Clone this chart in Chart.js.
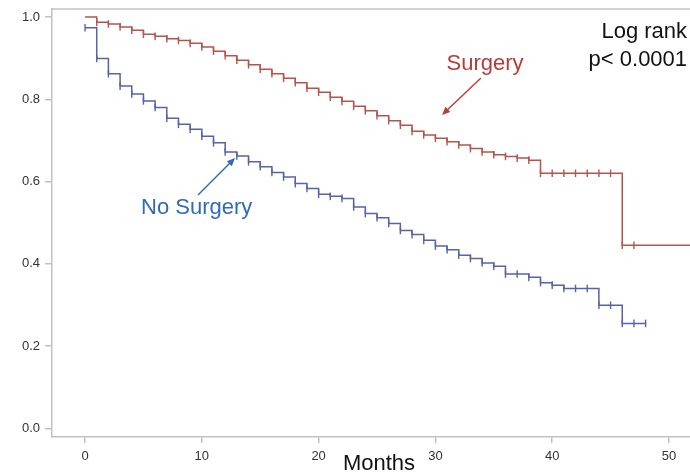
<!DOCTYPE html>
<html>
<head>
<meta charset="utf-8">
<script src="https://cdn.jsdelivr.net/npm/chart.js@4.4.1/dist/chart.umd.min.js"></script>
<style>
html,body{margin:0;padding:0;background:#fff;}
canvas{display:block;}
</style>
</head>
<body>
<canvas id="c" width="690" height="473"></canvas>
<script>
// ---- data ----
const surgeryMonths = [0,1,2,3,4,5,6,7,8,9,10,11,12,13,14,15,16,17,18,19,20,21,22,23,24,25,26,27,28,29,30,31,32,33,34,35,36,37,38,39,40,41,42,43,44,45,46,47];
const surgerySurvival = [1.000,0.987,0.983,0.976,0.968,0.958,0.953,0.947,0.943,0.936,0.927,0.917,0.906,0.895,0.884,0.873,0.862,0.851,0.840,0.827,0.817,0.805,0.795,0.783,0.772,0.760,0.748,0.737,0.722,0.713,0.705,0.697,0.689,0.680,0.672,0.665,0.661,0.657,0.652,0.620,0.620,0.620,0.620,0.620,0.620,0.620,0.445,0.445];
const surgeryFollowUpEnd = 52;
const surgeryCensored = [1,2,3,4,5,6,7,8,9,10,11,12,13,14,15,16,17,18,19,20,21,22,23,24,25,26,27,28,29,30,31,32,33,34,35,36,37,38,39,40,41,42,43,44,45,46,47];

const noSurgeryMonths = [0,1,2,3,4,5,6,7,8,9,10,11,12,13,14,15,16,17,18,19,20,21,22,23,24,25,26,27,28,29,30,31,32,33,34,35,36,37,38,39,40,41,42,43,44,45,46,47,48];
const noSurgerySurvival = [0.974,0.899,0.862,0.832,0.813,0.796,0.780,0.754,0.739,0.727,0.710,0.694,0.672,0.662,0.648,0.636,0.622,0.611,0.595,0.583,0.569,0.564,0.559,0.538,0.522,0.512,0.498,0.481,0.471,0.457,0.443,0.434,0.421,0.413,0.402,0.394,0.375,0.375,0.367,0.354,0.348,0.340,0.340,0.340,0.299,0.299,0.255,0.255,0.255];
const noSurgeryCensored = [0,1,2,3,4,5,6,7,8,9,10,11,12,13,14,15,16,17,18,19,20,21,22,23,24,25,26,27,28,29,30,31,32,33,34,35,36,37,38,39,40,41,42,43,44,45,46,47,48];

const xTicks = [0,10,20,30,40,50];
const xTickLabels = ['0','10','20','30','40','50'];
const yTicks = [0,0.2,0.4,0.6,0.8,1.0];
const yTickLabels = ['0.0','0.2','0.4','0.6','0.8','1.0'];

// ---- styles ----
const RED = '#b4544a';
const BLUE = '#5663a8';
const RED_TEXT = '#b73d36';
const BLUE_TEXT = '#2f6cb5';
const AXIS = '#c2c2c2';
const FONT = '"Liberation Sans", Arial, sans-serif';

function stepValue(months, values, m){
  let v = values[0];
  for (let i=0;i<months.length;i++){ if (months[i] <= m) v = values[i]; }
  return v;
}

const surgeryLine = surgeryMonths.map((m,i)=>({x:m,y:surgerySurvival[i]}));
surgeryLine.push({x:surgeryFollowUpEnd, y:surgerySurvival[surgerySurvival.length-1]});
const noSurgeryLine = noSurgeryMonths.map((m,i)=>({x:m,y:noSurgerySurvival[i]}));
const surgeryCens = surgeryCensored.map(m=>({x:m,y:stepValue(surgeryMonths,surgerySurvival,m)}));
const noSurgeryCens = noSurgeryCensored.map(m=>({x:m,y:stepValue(noSurgeryMonths,noSurgerySurvival,m)}));

// annotation anchors in data coordinates (months, survival)
const labels = [
  {text:'Surgery', m:34.25, v:0.871, color:RED_TEXT, align:'center'},
  {text:'No Surgery', m:4.79, v:0.521, color:BLUE_TEXT, align:'left'},
  {text:'Log rank', m:51.55, v:0.949, color:'#111', align:'right'},
  {text:'p< 0.0001', m:51.55, v:0.881, color:'#111', align:'right'}
];
const arrows = [
  {from:[33.9,0.852], to:[30.57,0.762], color:RED_TEXT},
  {from:[9.67,0.567], to:[12.84,0.657], color:BLUE_TEXT}
];

const annotPlugin = {
  id:'annot',
  afterDraw(chart){
    const {ctx, chartArea, scales} = chart;
    const xs = scales.x, ys = scales.y;
    ctx.save();
    // top frame line
    ctx.strokeStyle = AXIS; ctx.lineWidth = 1.5;
    ctx.beginPath(); ctx.moveTo(chartArea.left, chartArea.top); ctx.lineTo(chartArea.right, chartArea.top); ctx.stroke();
    // texts
    ctx.font = '22px ' + FONT;
    ctx.textBaseline = 'alphabetic';
    labels.forEach(l=>{
      ctx.fillStyle = l.color; ctx.textAlign = l.align;
      ctx.fillText(l.text, xs.getPixelForValue(l.m), ys.getPixelForValue(l.v));
    });
    // arrows
    arrows.forEach(a=>{
      const x1 = xs.getPixelForValue(a.from[0]), y1 = ys.getPixelForValue(a.from[1]);
      const x2 = xs.getPixelForValue(a.to[0]), y2 = ys.getPixelForValue(a.to[1]);
      const ang = Math.atan2(y2-y1, x2-x1);
      ctx.strokeStyle = a.color; ctx.fillStyle = a.color; ctx.lineWidth = 1.4;
      ctx.beginPath(); ctx.moveTo(x1,y1);
      ctx.lineTo(x2 - 6*Math.cos(ang), y2 - 6*Math.sin(ang)); ctx.stroke();
      ctx.beginPath();
      ctx.moveTo(x2,y2);
      ctx.lineTo(x2 - 8*Math.cos(ang) + 3.5*Math.sin(ang), y2 - 8*Math.sin(ang) - 3.5*Math.cos(ang));
      ctx.lineTo(x2 - 8*Math.cos(ang) - 3.5*Math.sin(ang), y2 - 8*Math.sin(ang) + 3.5*Math.cos(ang));
      ctx.closePath(); ctx.fill();
    });
    // x axis title
    ctx.fillStyle = '#111'; ctx.textAlign = 'center';
    ctx.font = '22px ' + FONT;
    ctx.fillText('Months', xs.getPixelForValue(25.17), chartArea.bottom + 33);
    ctx.restore();
  }
};

new Chart(document.getElementById('c'), {
  type:'line',
  data:{
    datasets:[
      {data:surgeryLine, borderColor:RED, borderWidth:1.5, stepped:true, pointRadius:0, fill:false},
      {data:noSurgeryLine, borderColor:BLUE, borderWidth:1.5, stepped:true, pointRadius:0, fill:false},
      {type:'scatter', data:surgeryCens, showLine:false, pointStyle:'line', rotation:90, pointRadius:3.8, borderColor:RED, borderWidth:1.4, backgroundColor:RED},
      {type:'scatter', data:noSurgeryCens, showLine:false, pointStyle:'line', rotation:90, pointRadius:3.8, borderColor:BLUE, borderWidth:1.4, backgroundColor:BLUE}
    ]
  },
  options:{
    responsive:false,
    animation:false,
    devicePixelRatio:1,
    layout:{autoPadding:false, padding:{top:9,left:0,right:0,bottom:0}},
    plugins:{legend:{display:false}, tooltip:{enabled:false}},
    elements:{line:{tension:0}},
    scales:{
      x:{
        type:'linear', min:-2.83, max:51.8,
        afterBuildTicks(s){ s.ticks = xTicks.map(v=>({value:v})); },
        afterFit(s){ s.height = 36; s.paddingLeft = 0; s.paddingRight = 0; },
        grid:{drawOnChartArea:false, drawTicks:true, tickLength:6, color:AXIS, lineWidth:1.5},
        border:{display:true, color:AXIS, width:1.5},
        ticks:{padding:6, color:'#333', font:{family:FONT, size:13}, maxRotation:0,
          callback(v){ const i = xTicks.indexOf(v); return i>=0 ? xTickLabels[i] : ''; }}
      },
      y:{
        type:'linear', min:-0.0212, max:1.0195,
        afterBuildTicks(s){ s.ticks = yTicks.map(v=>({value:v})); },
        afterFit(s){ s.width = 52; s.paddingTop = 0; s.paddingBottom = 0; },
        grid:{drawOnChartArea:false, drawTicks:true, tickLength:7, color:AXIS, lineWidth:1.5},
        border:{display:true, color:AXIS, width:1.5},
        ticks:{padding:5, color:'#333', font:{family:FONT, size:13},
          callback(v){ const i = yTicks.findIndex(t=>Math.abs(t-v)<1e-9); return i>=0 ? yTickLabels[i] : ''; }}
      }
    }
  },
  plugins:[annotPlugin]
});
</script>
</body>
</html>
